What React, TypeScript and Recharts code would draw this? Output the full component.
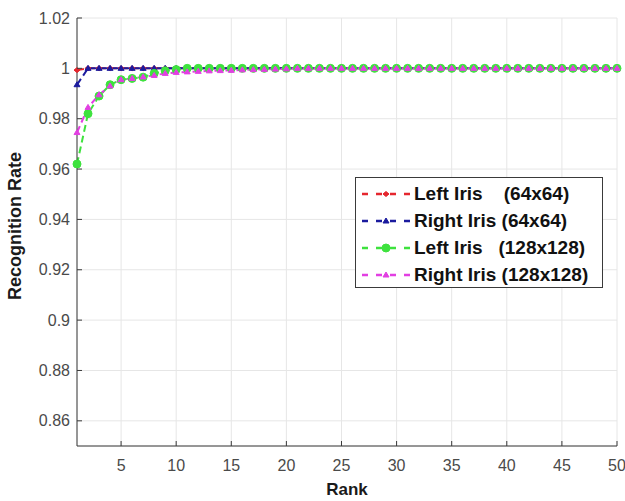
import React from "react";
import { LineChart, Line, XAxis, YAxis, CartesianGrid } from "recharts";

// rank axis, 1..50
const ranks = [
  1, 2, 3, 4, 5, 6, 7, 8, 9, 10, 11, 12, 13, 14, 15, 16, 17, 18, 19, 20, 21, 22, 23, 24, 25,
  26, 27, 28, 29, 30, 31, 32, 33, 34, 35, 36, 37, 38, 39, 40, 41, 42, 43, 44, 45, 46, 47, 48, 49, 50,
];

const leftIris64 = [
  0.9993, 1, 1, 1, 1, 1, 1, 1, 1, 1, 1, 1, 1, 1, 1, 1, 1, 1, 1, 1, 1, 1, 1, 1, 1,
  1, 1, 1, 1, 1, 1, 1, 1, 1, 1, 1, 1, 1, 1, 1, 1, 1, 1, 1, 1, 1, 1, 1, 1, 1,
];
const rightIris64 = [
  0.9935, 1, 1, 1, 1, 1, 1, 1, 1, 1, 1, 1, 1, 1, 1, 1, 1, 1, 1, 1, 1, 1, 1, 1, 1,
  1, 1, 1, 1, 1, 1, 1, 1, 1, 1, 1, 1, 1, 1, 1, 1, 1, 1, 1, 1, 1, 1, 1, 1, 1,
];
const leftIris128 = [
  0.962, 0.982, 0.989, 0.9935, 0.9955, 0.996, 0.9965, 0.998, 0.999, 0.9995, 1, 1, 1, 1, 1, 1, 1, 1, 1, 1, 1, 1, 1, 1, 1,
  1, 1, 1, 1, 1, 1, 1, 1, 1, 1, 1, 1, 1, 1, 1, 1, 1, 1, 1, 1, 1, 1, 1, 1, 1,
];
const rightIris128 = [
  0.9745, 0.9845, 0.9895, 0.993, 0.9955, 0.996, 0.9966, 0.9972, 0.998, 0.9984, 0.9986, 0.9988, 0.999, 0.9991, 0.9992,
  0.9994, 0.9995, 0.9996, 0.9997, 0.9998, 1, 1, 1, 1, 1,
  1, 1, 1, 1, 1, 1, 1, 1, 1, 1, 1, 1, 1, 1, 1, 1, 1, 1, 1, 1, 1, 1, 1, 1, 1,
];

const xTicks = [5, 10, 15, 20, 25, 30, 35, 40, 45, 50];
const yTicks = [0.86, 0.88, 0.9, 0.92, 0.94, 0.96, 0.98, 1, 1.02];

const rows = ranks.map((rank, i) => ({
  rank,
  left64: leftIris64[i],
  right64: rightIris64[i],
  left128: leftIris128[i],
  right128: rightIris128[i],
}));

const FONT = '"Liberation Sans", Arial, sans-serif';
const FRAME = "#3a3a3a";
const TICK_TEXT = "#4a4a4a";

// plot box, used for the inward tick marks and the axis titles
const PLOT = { left: 77, top: 18, right: 617, bottom: 446 };

const marker = (kind: string, color: string, cx: number, cy: number, key?: any) => {
  if (kind === "circle") return <circle key={key} cx={cx} cy={cy} r={4} fill={color} stroke={color} />;
  if (kind === "diamond")
    return (
      <path key={key} d={`M${cx - 3},${cy} L${cx},${cy - 2.5} L${cx + 3},${cy} L${cx},${cy + 2.5} Z`} fill={color} stroke={color} />
    );
  return <path key={key} d={`M${cx - 3},${cy + 2} L${cx},${cy - 3} L${cx + 3},${cy + 2} Z`} fill={color} stroke={color} />;
};

const SERIES = [
  { key: "left64", name: "Left Iris    (64x64)", color: "#e5262e", shape: "diamond" },
  { key: "right64", name: "Right Iris (64x64)", color: "#1b1b9e", shape: "triangle" },
  { key: "left128", name: "Left Iris   (128x128)", color: "#3ee23e", shape: "circle" },
  { key: "right128", name: "Right Iris (128x128)", color: "#e23fe2", shape: "triangle" },
];

const makeDot = (shape: string, color: string) => (props: any) => {
  const { cx, cy, index } = props;
  if (cx == null || cy == null) return <g key={index} />;
  return marker(shape, color, cx, cy, index);
};

const BottomTick = (props: any) => {
  const { x, payload } = props;
  return (
    <g>
      <line x1={x} x2={x} y1={PLOT.bottom} y2={PLOT.bottom - 5} stroke={FRAME} />
      <text x={x} y={PLOT.bottom + 25} textAnchor="middle" fontSize={16} fontFamily={FONT} fill={TICK_TEXT}>
        {payload.value}
      </text>
    </g>
  );
};

const TopTick = (props: any) => {
  const { x } = props;
  return <line x1={x} x2={x} y1={PLOT.top} y2={PLOT.top + 5} stroke={FRAME} />;
};

const LeftTick = (props: any) => {
  const { y, payload } = props;
  return (
    <g>
      <line x1={PLOT.left} x2={PLOT.left + 5} y1={y} y2={y} stroke={FRAME} />
      <text x={PLOT.left - 7} y={y + 5.5} textAnchor="end" fontSize={16} fontFamily={FONT} fill={TICK_TEXT}>
        {String(Number(payload.value.toFixed(2)))}
      </text>
    </g>
  );
};

const RightTick = (props: any) => {
  const { y } = props;
  return <line x1={PLOT.right} x2={PLOT.right - 5} y1={y} y2={y} stroke={FRAME} />;
};

const LegendBox = () => (
  <div
    style={{
      position: "absolute",
      left: 355,
      top: 177,
      width: 248,
      height: 111,
      background: "#fff",
      border: `1px solid ${FRAME}`,
      fontFamily: FONT,
      fontWeight: "bold",
      fontSize: 19,
      color: "#111",
      paddingTop: 3,
      boxSizing: "border-box",
    }}
  >
    {SERIES.map((s) => (
      <div key={s.key} style={{ display: "flex", alignItems: "center", height: 26.8 }}>
        <svg width={58} height={14} style={{ flex: "none" }}>
          <line x1={6} x2={54} y1={7} y2={7} stroke={s.color} strokeWidth={2.5} strokeDasharray="6 8" />
          {marker(s.shape, s.color, 30, 7)}
        </svg>
        <span style={{ whiteSpace: "pre" }}>{s.name}</span>
      </div>
    ))}
  </div>
);

export default function App() {
  return (
    <div style={{ position: "absolute", left: 0, top: 0, width: 625, height: 501, background: "#fff" }}>
      <LineChart width={625} height={501} data={rows} margin={{ top: 18, right: 8, bottom: 0, left: 0 }}>
        <CartesianGrid stroke="#e6e6e6" />
        <XAxis
          dataKey="rank"
          type="number"
          domain={[1, 50]}
          ticks={xTicks}
          height={55}
          axisLine={{ stroke: FRAME }}
          tickLine={false}
          tick={<BottomTick />}
          interval={0}
          label={{
            content: () => (
              <text
                x={(PLOT.left + PLOT.right) / 2}
                y={495}
                textAnchor="middle"
                fontSize={17}
                fontWeight="bold"
                fontFamily={FONT}
                fill="#1a1a1a"
              >
                Rank
              </text>
            ),
          }}
        />
        <XAxis
          xAxisId="top"
          orientation="top"
          dataKey="rank"
          type="number"
          domain={[1, 50]}
          ticks={xTicks}
          height={0}
          axisLine={{ stroke: FRAME }}
          tickLine={false}
          tick={<TopTick />}
          interval={0}
        />
        <YAxis
          type="number"
          domain={[0.85, 1.02]}
          ticks={yTicks}
          width={77}
          axisLine={{ stroke: FRAME }}
          tickLine={false}
          tick={<LeftTick />}
          interval={0}
          label={{
            content: () => (
              <text
                x={21}
                y={226}
                transform="rotate(-90 21 226)"
                textAnchor="middle"
                fontSize={18}
                fontWeight="bold"
                fontFamily={FONT}
                fill="#1a1a1a"
              >
                Recognition Rate
              </text>
            ),
          }}
        />
        <YAxis
          yAxisId="right"
          orientation="right"
          type="number"
          domain={[0.85, 1.02]}
          ticks={yTicks}
          width={0}
          axisLine={{ stroke: FRAME }}
          tickLine={false}
          tick={<RightTick />}
          interval={0}
        />
        {SERIES.map((s) => (
          <Line
            key={s.key}
            dataKey={s.key}
            name={s.name}
            stroke={s.color}
            strokeWidth={2}
            strokeDasharray="7 4"
            dot={makeDot(s.shape, s.color)}
            activeDot={false}
            isAnimationActive={false}
          />
        ))}
      </LineChart>
      <LegendBox />
    </div>
  );
}
